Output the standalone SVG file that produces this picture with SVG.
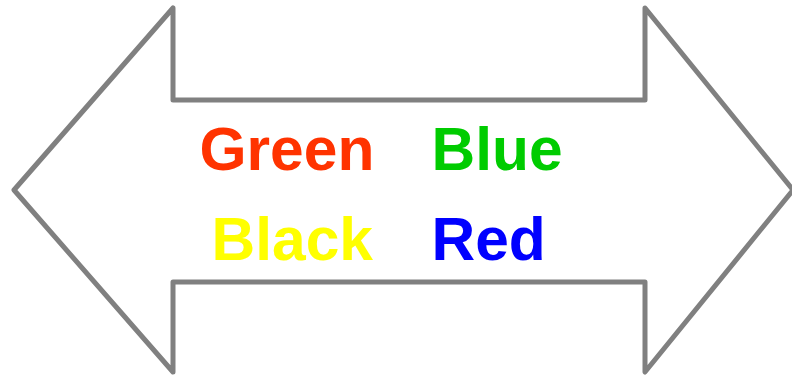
<svg xmlns="http://www.w3.org/2000/svg" width="792" height="376" viewBox="0 0 792 376">
<style>
.t{font-family:"Liberation Sans",Arial,sans-serif;font-weight:bold;font-size:60.5px}
</style>
<rect width="792" height="376" fill="#ffffff"/>
<g id="arrow">
<path d="M14,190 L173,8 L173,100 L645,100 L645,8 L793,190 L645,372 L645,282 L173,282 L173,372 Z" fill="#ffffff" stroke="#808080" stroke-width="5" stroke-linejoin="round"/>
</g>
<g id="labels">
<text class="t" x="199.5" y="170" fill="#FF3300">Green</text>
<text class="t" x="431.5" y="170" fill="#00CC00">Blue</text>
<text class="t" x="211.5" y="260" fill="#FFFF00">Black</text>
<text class="t" x="431.5" y="260" fill="#0000FF">Red</text>
</g>
</svg>
